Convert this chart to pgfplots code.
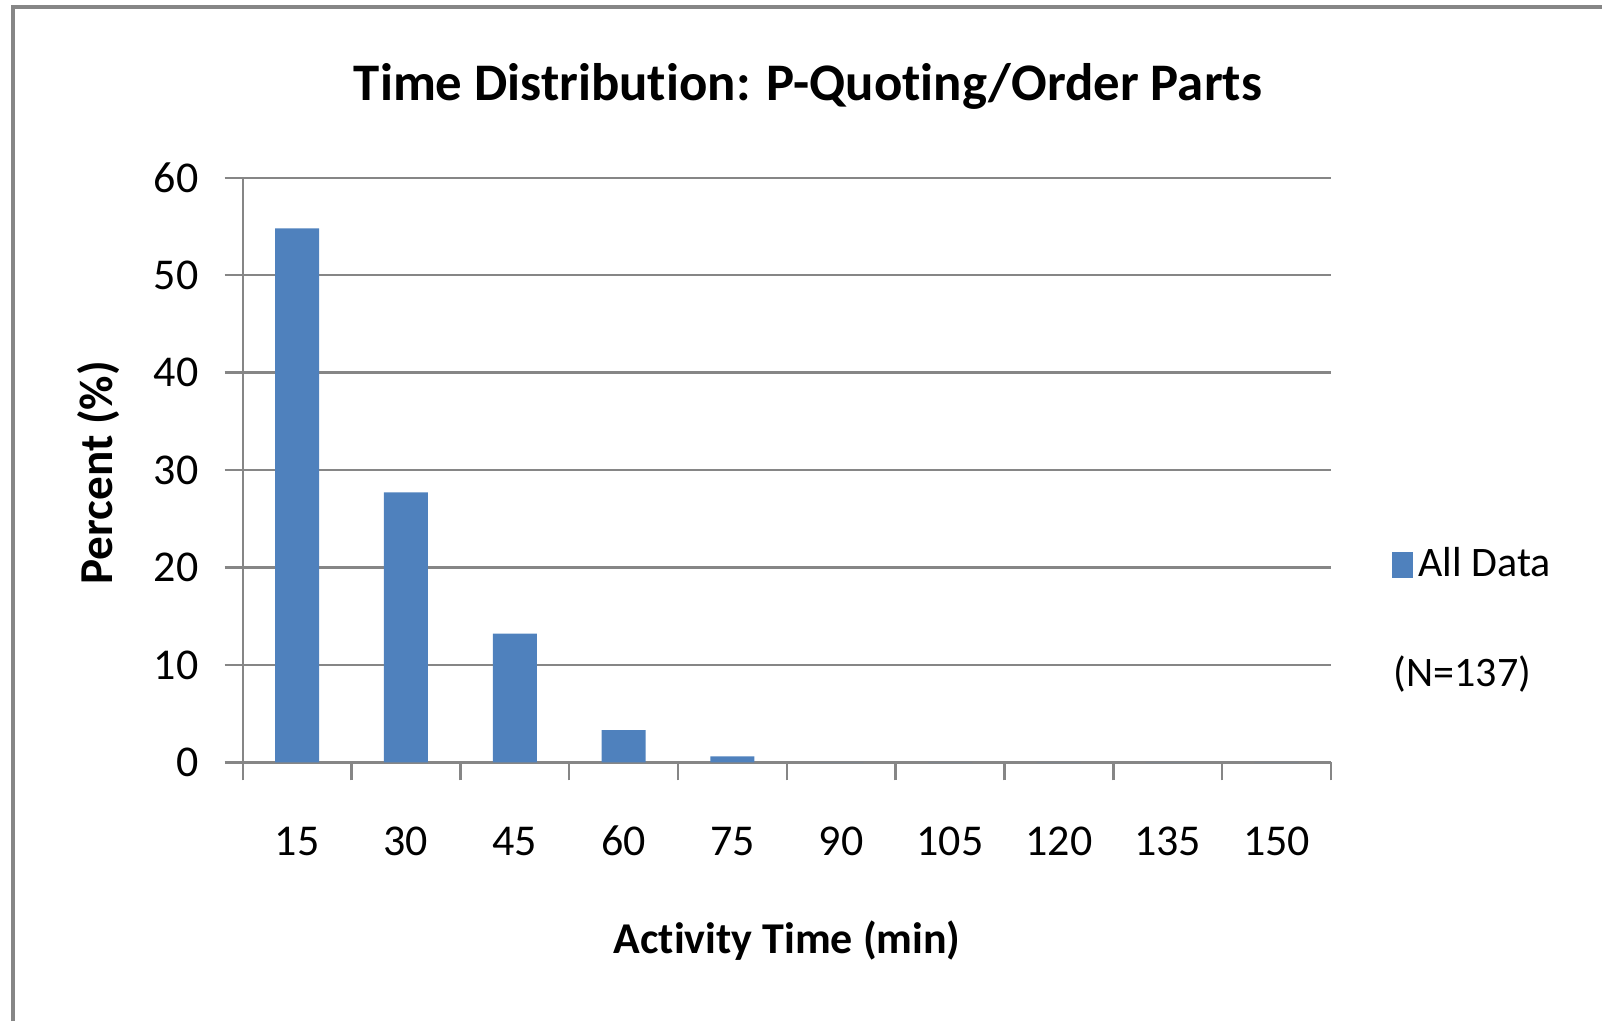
\documentclass[border=0pt]{standalone}
\usepackage{pgfplots}
\pgfplotsset{compat=1.18}
\usepackage{fontspec}
\setmainfont{Carlito}[Ligatures=NoCommon]
\definecolor{barblue}{HTML}{4F81BD}
\definecolor{axgrey}{HTML}{868686}
\begin{document}
\begin{tikzpicture}
\path[use as bounding box] (0pt,0pt) rectangle (400.5pt,255.25pt);
\draw[axgrey, line width=1pt] (3.25pt,0pt) -- (3.25pt,253.5pt) -- (400.5pt,253.5pt);
\begin{axis}[
  at={(60.675pt,64.675pt)}, anchor=south west,
  scale only axis, width=272.075pt, height=146.125pt,
  xmin=0.5, xmax=10.5, ymin=0, ymax=60,
  axis x line*=bottom, axis y line*=left,
  axis line style={axgrey, line width=0.6pt, -},
  ytick={0,10,...,60}, ymajorgrids,
  grid style={axgrey, line width=0.6pt},
  xtick={1,...,10},
  xticklabels={15,30,45,60,75,90,105,120,135,150},
  minor xtick={0.5,1.5,...,10.5},
  minor ytick={0,10,...,60},
  major tick length=0pt, minor tick length=4.5pt,
  tick align=outside,
  minor tick style={axgrey, line width=0.6pt},
  /pgf/number format/assume math mode=true,
  tick label style={font=\fontsize{11}{13}\selectfont, inner sep=0pt},
  xticklabel style={anchor=base, yshift=-23.4pt},
  yticklabel style={anchor=east, xshift=-10.85pt},
  title={Time Distribution: P-Quoting/Order Parts},
  title style={at={(axis description cs:0.5194,1.091)}, anchor=base, inner sep=0pt, font=\bfseries\fontsize{13.2}{15}\selectfont},
  xlabel={Activity Time (min)},
  xlabel style={at={(axis description cs:0.5003,-0.3263)}, anchor=base, inner sep=0pt, font=\bfseries\fontsize{11}{13}\selectfont},
  ylabel={Percent (\%)},
  ylabel style={at={(axis description cs:-0.1197,0.4956)}, anchor=base, inner sep=0pt, font=\bfseries\fontsize{11.8}{13}\selectfont},
  legend image code/.code={\fill[barblue] (0pt,-3.25pt) rectangle (5.2pt,3.25pt);},
  legend style={at={(1.0551,0.3382)}, anchor=west, draw=none, fill=none, inner sep=0pt,
    font=\fontsize{10.5}{12}\selectfont, nodes={inner sep=1.5pt}},
]
\addplot[ybar, bar width=11pt, fill=barblue, draw=none]
  coordinates {(1,54.8) (2,27.7) (3,13.2) (4,3.3) (5,0.6) (6,0) (7,0) (8,0) (9,0) (10,0)};
\addlegendentry{All Data}
\end{axis}
\node[anchor=base west, inner sep=0pt, font=\fontsize{10.5}{12}\selectfont] at (348.25pt,83.75pt) {(N=137)};
\end{tikzpicture}
\end{document}
